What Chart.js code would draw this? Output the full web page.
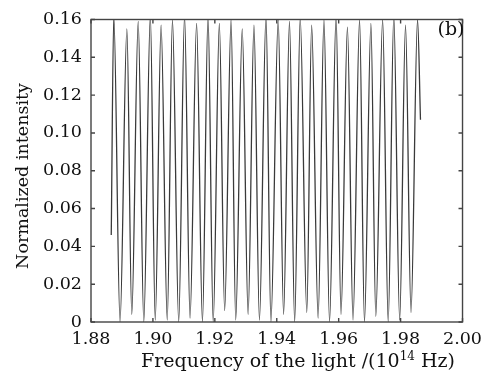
<!DOCTYPE html>
<html>
<head>
<meta charset="utf-8">
<script src="https://cdn.jsdelivr.net/npm/chart.js@4/dist/chart.umd.min.js"></script>
<style>
  html, body { margin: 0; padding: 0; background: #fff; }
  #wrap { width: 489px; height: 372px; position: relative; }
</style>
</head>
<body>
<div id="wrap"><canvas id="c" width="489" height="372"></canvas></div>
<script>
// Frequency axis: 10^14 Hz
const xTicks = [1.88, 1.90, 1.92, 1.94, 1.96, 1.98, 2.00];
const yTicks = [0, 0.02, 0.04, 0.06, 0.08, 0.10, 0.12, 0.14, 0.16];

// Trace begins and ends part-way up a fringe
const startFreq = 1.88654, startVal = 0.046;
const endFreq = 1.98642, endVal = 0.107;

// Fringe maxima
const peakFreq = [1.88736, 1.89159, 1.89525, 1.89917, 1.90264, 1.90631, 1.91022,
  1.91411, 1.91780, 1.92146, 1.92525, 1.92885, 1.93264, 1.93653, 1.94047, 1.94411,
  1.94758, 1.95127, 1.95525, 1.95917, 1.96283, 1.96675, 1.97041, 1.97420, 1.97780,
  1.98159, 1.98547];
const peakVal = [0.162, 0.155, 0.159, 0.162, 0.157, 0.160, 0.162, 0.158, 0.162,
  0.158, 0.160, 0.155, 0.157, 0.162, 0.160, 0.159, 0.161, 0.157, 0.160, 0.162,
  0.156, 0.160, 0.158, 0.160, 0.162, 0.157, 0.160];

// Fringe minima
const troughFreq = [1.88938, 1.89317, 1.89705, 1.90075, 1.90463, 1.90833, 1.91199,
  1.91600, 1.91947, 1.92317, 1.92674, 1.93075, 1.93441, 1.93811, 1.94221, 1.94578,
  1.94970, 1.95336, 1.95705, 1.96075, 1.96463, 1.96833, 1.97199, 1.97600, 1.97970,
  1.98336];
const troughVal = [0.000, 0.004, 0.000, 0.001, 0.001, 0.000, 0.002, 0.000, 0.000,
  0.006, 0.001, 0.004, 0.001, 0.000, 0.004, 0.000, 0.005, 0.002, 0.000, 0.004,
  0.001, 0.000, 0.003, 0.000, 0.001, 0.005];

// Interleave maxima and minima into one trace
const trace = [{ x: startFreq, y: startVal }];
for (let i = 0; i < peakFreq.length; i++) {
  trace.push({ x: peakFreq[i], y: peakVal[i] });
  if (i < troughFreq.length) trace.push({ x: troughFreq[i], y: troughVal[i] });
}
trace.push({ x: endFreq, y: endVal });

const FONT = '"DejaVu Serif", "Liberation Serif", serif';

// Boxed frame with inward ticks on all four sides, plus titles
const frameAndTitles = {
  id: 'frameAndTitles',
  afterDatasetsDraw(chart) {
    const { ctx, chartArea: a, scales } = chart;
    ctx.save();
    ctx.strokeStyle = '#444';
    ctx.lineWidth = 1.4;
    ctx.strokeRect(a.left, a.top, a.right - a.left, a.bottom - a.top);
    const tl = 4;
    ctx.beginPath();
    xTicks.forEach(v => {
      const px = scales.x.getPixelForValue(v);
      ctx.moveTo(px, a.bottom); ctx.lineTo(px, a.bottom - tl);
      ctx.moveTo(px, a.top); ctx.lineTo(px, a.top + tl);
    });
    yTicks.forEach(v => {
      const py = scales.y.getPixelForValue(v);
      ctx.moveTo(a.left, py); ctx.lineTo(a.left + tl, py);
      ctx.moveTo(a.right, py); ctx.lineTo(a.right - tl, py);
    });
    ctx.stroke();

    ctx.fillStyle = '#111';
    // panel tag
    ctx.font = '19px ' + FONT;
    ctx.textAlign = 'center';
    ctx.textBaseline = 'middle';
    ctx.fillText('(b)', 451, 30);

    // y title
    ctx.save();
    ctx.translate(23, 176);
    ctx.rotate(-Math.PI / 2);
    ctx.font = '17.5px ' + FONT;
    ctx.fillText('Normalized intensity', 0, 0);
    ctx.restore();

    // x title with superscript exponent
    const parts = [
      { t: 'Frequency of the light /(10', f: '19px ' + FONT, dy: 0 },
      { t: '14', f: '12px ' + FONT, dy: -7 },
      { t: ' Hz)', f: '19px ' + FONT, dy: 0 }
    ];
    let total = 0;
    parts.forEach(p => { ctx.font = p.f; p.w = ctx.measureText(p.t).width; total += p.w; });
    let x = 298 - total / 2;
    ctx.textAlign = 'left';
    ctx.textBaseline = 'alphabetic';
    parts.forEach(p => { ctx.font = p.f; ctx.fillText(p.t, x, 367 + p.dy); x += p.w; });
    ctx.restore();
  }
};

new Chart(document.getElementById('c'), {
  type: 'line',
  data: {
    datasets: [{
      data: trace,
      borderColor: '#3a3a3a',
      borderWidth: 1.3,
      pointRadius: 0,
      cubicInterpolationMode: 'monotone',
      fill: false
    }]
  },
  options: {
    responsive: false,
    animation: false,
    devicePixelRatio: 1,
    layout: { padding: { left: 0, right: 18, top: 13, bottom: 0 } },
    plugins: { legend: { display: false }, tooltip: { enabled: false } },
    scales: {
      x: {
        type: 'linear',
        min: 1.88, max: 2.00,
        grid: { display: false, drawTicks: false },
        border: { display: false },
        afterBuildTicks: s => { s.ticks = xTicks.map(v => ({ value: v })); },
        ticks: {
          padding: 7,
          color: '#111',
          font: { family: FONT, size: 17.5 },
          maxRotation: 0,
          autoSkip: false,
          callback: v => Number(v).toFixed(2)
        },
        afterFit: s => { s.height = 50; }
      },
      y: {
        min: 0, max: 0.16,
        grid: { display: false, drawTicks: false },
        border: { display: false },
        afterBuildTicks: s => { s.ticks = yTicks.map(v => ({ value: v })); },
        ticks: {
          padding: 9,
          color: '#111',
          font: { family: FONT, size: 17.5 },
          callback: v => (v === 0 ? '0' : Number(v).toFixed(2))
        },
        afterFit: s => { s.width = 91; }
      }
    }
  },
  plugins: [frameAndTitles]
});
</script>
</body>
</html>
